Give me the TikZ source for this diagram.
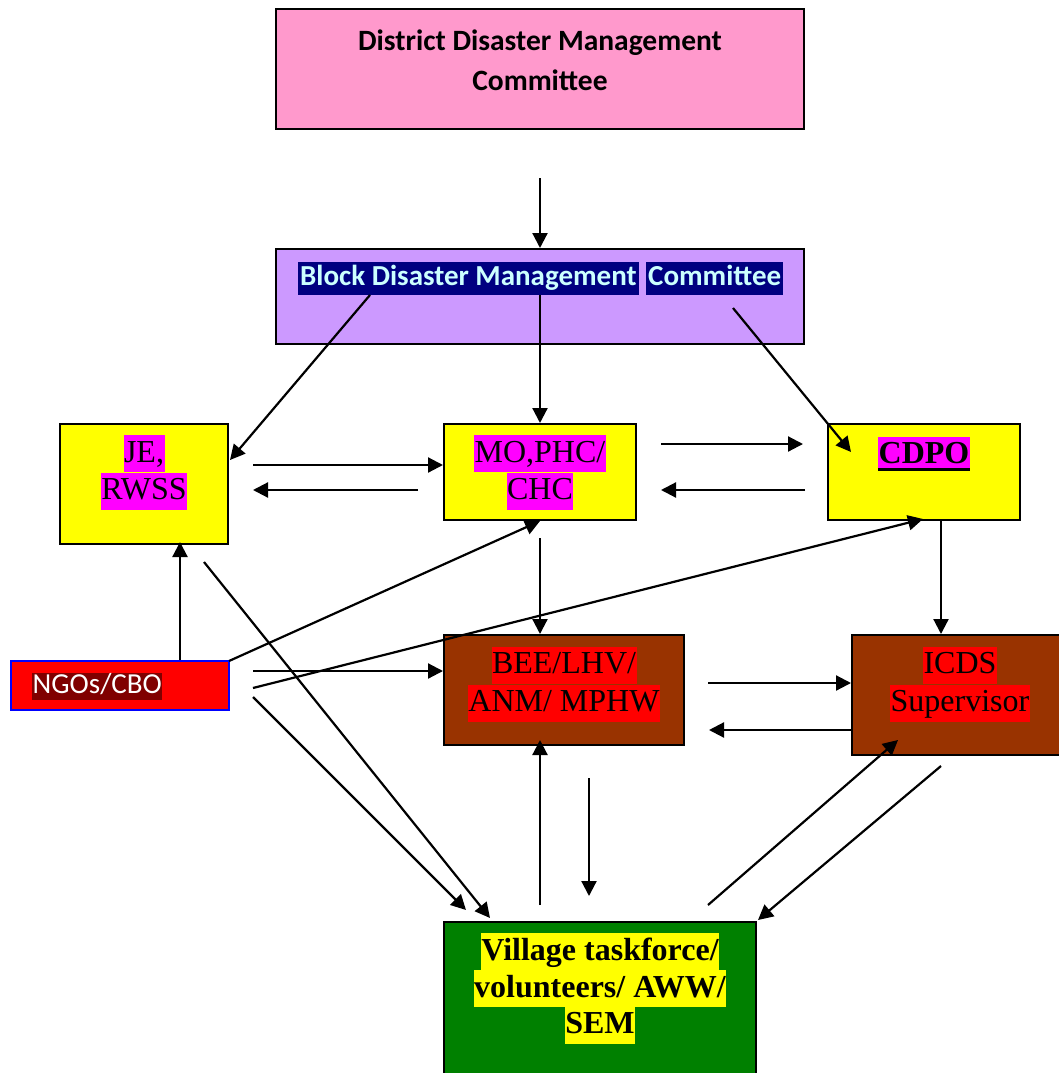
\documentclass[tikz,border=0pt]{standalone}
\usepackage{fontspec}
\setmainfont{Liberation Serif}
\newfontfamily\calfont{Carlito}
\usetikzlibrary{arrows.meta}
\definecolor{ddpink}{HTML}{FF99CC}
\definecolor{bdlav}{HTML}{CC99FF}
\definecolor{navyhl}{HTML}{000080}
\definecolor{cyantxt}{HTML}{CCFFFF}
\definecolor{ylw}{HTML}{FFFF00}
\definecolor{mag}{HTML}{FF00FF}
\definecolor{brn}{HTML}{993300}
\definecolor{rd}{HTML}{FF0000}
\definecolor{drd}{HTML}{800000}
\definecolor{grn}{HTML}{008000}
\begin{document}
\begin{tikzpicture}[x=1pt,y=-1pt,
  box/.style={draw=black, line width=1.6pt, fill=#1, inner sep=0pt},
  hl/.style={fill=#1, inner xsep=0.5pt, inner ysep=0pt, text height=27pt, text depth=10pt,
    font=\fontsize{32}{38}\selectfont},
  bdhl/.style={anchor=west, fill=navyhl, text=cyantxt, inner xsep=2pt, inner ysep=0pt,
    text height=23pt, text depth=10pt, font=\calfont\bfseries\fontsize{29}{34}\selectfont},
  arr/.style={line width=2.2pt, -{Triangle[length=15pt,width=15pt]}}]
\useasboundingbox (0,0) rectangle (1059,1073);
% boxes
\node[box=ddpink, minimum width=528pt, minimum height=120pt] (ddmc) at (540,69) {};
\node[box=bdlav, minimum width=528pt, minimum height=95pt] (bdmc) at (540,296.5) {};
\node[box=ylw, minimum width=168pt, minimum height=120pt] (je) at (144,484) {};
\node[box=ylw, minimum width=192pt, minimum height=96pt] (mo) at (540,472) {};
\node[box=ylw, minimum width=192pt, minimum height=96pt] (cdpo) at (924,472) {};
\node[draw=blue, line width=1.6pt, fill=rd, inner sep=0pt, minimum width=218pt, minimum height=49pt] (ngo) at (120,685.5) {};
\node[box=brn, minimum width=240pt, minimum height=110pt] (bee) at (564,690) {};
\node[box=brn, minimum width=210pt, minimum height=120pt] (icds) at (957,695) {};
\node[box=grn, minimum width=312pt, minimum height=153pt] (vil) at (600,998.5) {};
% texts
\node[align=center, font=\calfont\bfseries\fontsize{29.5}{40}\selectfont] (ddmct) at (540,60)
  {District Disaster Management\\Committee};
\node[bdhl] (bdmct1) at (298,278.5) {Block Disaster Management};
\node[bdhl] (bdmct2) at (646,278.5) {Committee};
\node[hl=mag] (jet1) at (144,453.5) {JE,};
\node[hl=mag] (jet2) at (144,491) {RWSS};
\node[hl=mag] (mot1) at (540,453.5) {MO,PHC/};
\node[hl=mag] (mot2) at (540,491) {CHC};
\node[hl=mag, font=\bfseries\fontsize{32}{38}\selectfont, text depth=6pt] (cdpot) at (924,453) {CDPO};
\draw[line width=3pt] (cdpot.south west) -- (cdpot.south east);
\node[anchor=west, fill=drd, text=white, inner xsep=0.5pt, inner ysep=0pt, text height=21pt, text depth=6pt,
  font=\calfont\fontsize{29}{32}\selectfont] (ngot) at (32,686) {NGOs/CBO};
\node[hl=rd] (beet1) at (564,665) {BEE/LHV/};
\node[hl=rd] (beet2) at (564,703) {ANM/ MPHW};
\node[hl=rd] (icdst1) at (960,665) {ICDS};
\node[hl=rd] (icdst2) at (960,703) {Supervisor};
\node[hl=ylw, font=\bfseries\fontsize{32}{38}\selectfont] (vilt1) at (600,951.5) {Village taskforce/};
\node[hl=ylw, font=\bfseries\fontsize{32}{38}\selectfont] (vilt2) at (600,988.5) {volunteers/ AWW/};
\node[hl=ylw, font=\bfseries\fontsize{32}{38}\selectfont] (vilt3) at (600,1025) {SEM};
% connector end points
\coordinate (s1) at (540,178);  \coordinate (e1) at (540,248);
\coordinate (s2) at (370,295);  \coordinate (e2) at (230,460);
\coordinate (s3) at (540,295);  \coordinate (e3) at (540,423);
\coordinate (s4) at (733,308);  \coordinate (e4) at (851,452);
\coordinate (s5) at (253,465);  \coordinate (e5) at (443,465);
\coordinate (s6) at (418,490);  \coordinate (e6) at (253,490);
\coordinate (s7) at (661,444);  \coordinate (e7) at (803,444);
\coordinate (s8) at (805,490);  \coordinate (e8) at (661,490);
\coordinate (s9) at (180,660);  \coordinate (e9) at (180,542);
\coordinate (s10) at (229,661); \coordinate (e10) at (540,521);
\coordinate (s11) at (253,671); \coordinate (e11) at (443,671);
\coordinate (s12) at (253,688); \coordinate (e12) at (923,519);
\coordinate (s13) at (253,697); \coordinate (e13) at (466,910);
\coordinate (s14) at (204,562); \coordinate (e14) at (490,918);
\coordinate (s15) at (540,538); \coordinate (e15) at (540,634);
\coordinate (s16) at (941,520); \coordinate (e16) at (941,634);
\coordinate (s17) at (708,683); \coordinate (e17) at (851,683);
\coordinate (s18) at (851,730); \coordinate (e18) at (709,730);
\coordinate (s19) at (540,905); \coordinate (e19) at (540,740);
\coordinate (s20) at (589,778); \coordinate (e20) at (589,896);
\coordinate (s21) at (708,905); \coordinate (e21) at (898,740);
\coordinate (s22) at (941,766); \coordinate (e22) at (758,920);
\foreach \i in {1,...,22} { \draw[arr] (s\i) -- (e\i); }
\end{tikzpicture}
\end{document}
